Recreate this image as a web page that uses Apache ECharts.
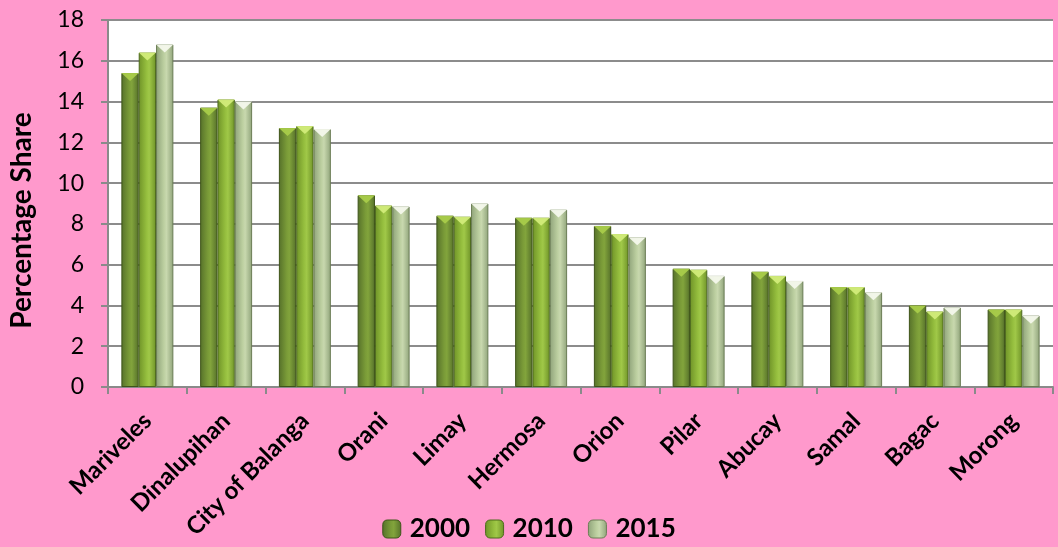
<!DOCTYPE html>
<html>
<head>
<meta charset="utf-8">
<script src="https://cdn.jsdelivr.net/npm/echarts@6/dist/echarts.min.js"></script>
<style>
html,body{margin:0;padding:0;background:#FF99CC;}
#chart{width:1058px;height:547px;}
</style>
</head>
<body>
<div id="chart"></div>
<script>
const categories = ['Mariveles','Dinalupihan','City of Balanga','Orani','Limay','Hermosa','Orion','Pilar','Abucay','Samal','Bagac','Morong'];
const seriesNames = ['2000','2010','2015'];
const values2000 = [15.4, 13.7, 12.7, 9.4, 8.4, 8.3, 7.9, 5.8, 5.65, 4.9, 4.0, 3.8];
const values2010 = [16.4, 14.1, 12.8, 8.9, 8.35, 8.3, 7.5, 5.75, 5.45, 4.9, 3.7, 3.8];
const values2015 = [16.8, 14.0, 12.65, 8.85, 9.0, 8.7, 7.35, 5.45, 5.2, 4.65, 3.9, 3.5];
const yTicks = {min: 0, max: 18, interval: 2};
const yAxisTitle = 'Percentage Share';

const FONT = 'Lato, "Open Sans", sans-serif';
function grad(edge, mid, light) {
  return new echarts.graphic.LinearGradient(0, 0, 1, 0, [
    {offset: 0, color: edge},
    {offset: 0.45, color: mid},
    {offset: 0.6, color: light},
    {offset: 1, color: edge}
  ]);
}
const styles = [
  {c: grad('#56712A', '#7A9B38', '#82A43C'), b: '#3E5419', cap: '#A9CC4A'},
  {c: grad('#6F9328', '#95BE3E', '#A0C848'), b: '#4D6A1D', cap: '#D2EC7A'},
  {c: grad('#8FA37A', '#BCCFA0', '#C8D8AE'), b: '#6B7D55', cap: '#F4F8EC'}
];
const data = [values2000, values2010, values2015];
const GAP = '0%', CATGAP = '34%';
const barSeries = seriesNames.map((n, i) => ({
  name: n, type: 'bar', data: data[i], z: 2,
  barGap: GAP, barCategoryGap: CATGAP,
  itemStyle: {color: styles[i].c, borderColor: styles[i].b, borderWidth: 1}
}));
const capSeries = seriesNames.map((n, i) => ({
  name: n + ' cap', type: 'pictorialBar', data: data[i], z: 3,
  barGap: GAP, barCategoryGap: CATGAP,
  symbol: 'triangle', symbolRotate: 180, symbolPosition: 'end',
  symbolSize: ['100%', 8], symbolOffset: [0, 0],
  itemStyle: {color: styles[i].cap, opacity: 0.95},
  silent: true, tooltip: {show: false}
}));
const chart = echarts.init(document.getElementById('chart'), null, {renderer: 'canvas'});
chart.setOption({
  backgroundColor: '#FF99CC',
  animation: false,
  grid: {left: 105, right: 5, top: 20, bottom: 160, show: true, backgroundColor: '#ffffff', borderWidth: 0},
  legend: {
    bottom: 0, left: 'center',
    itemWidth: 18, itemHeight: 18, itemGap: 15,
    textStyle: {fontFamily: FONT, fontWeight: 'bold', fontSize: 26, color: '#000', padding: [0, 0, 0, 4]},
    data: seriesNames.map((n, i) => ({name: n, itemStyle: {color: styles[i].c, borderColor: styles[i].b, borderWidth: 1}}))
  },
  xAxis: {
    type: 'category', data: categories,
    axisLine: {lineStyle: {color: '#8a8a8a', width: 2}},
    axisTick: {show: true, length: 7, lineStyle: {color: '#8a8a8a', width: 2}},
    axisLabel: {rotate: 45, fontFamily: FONT, fontWeight: 'bold', fontSize: 24, color: '#000', margin: 30, interval: 0}
  },
  yAxis: {
    type: 'value', min: yTicks.min, max: yTicks.max, interval: yTicks.interval,
    name: yAxisTitle, nameLocation: 'middle', nameGap: 72, nameRotate: 90,
    nameTextStyle: {fontFamily: FONT, fontWeight: 'bold', fontSize: 28, color: '#000', padding: [0, 34, 0, 0]},
    axisLine: {show: true, lineStyle: {color: '#8a8a8a', width: 2}},
    axisTick: {show: true, length: 7, lineStyle: {color: '#8a8a8a', width: 2}},
    axisLabel: {fontFamily: FONT, fontSize: 23, color: '#000', margin: 24},
    splitLine: {lineStyle: {color: '#8c8c8c', width: 2}}
  },
  series: barSeries.concat(capSeries)
});
</script>
</body>
</html>
